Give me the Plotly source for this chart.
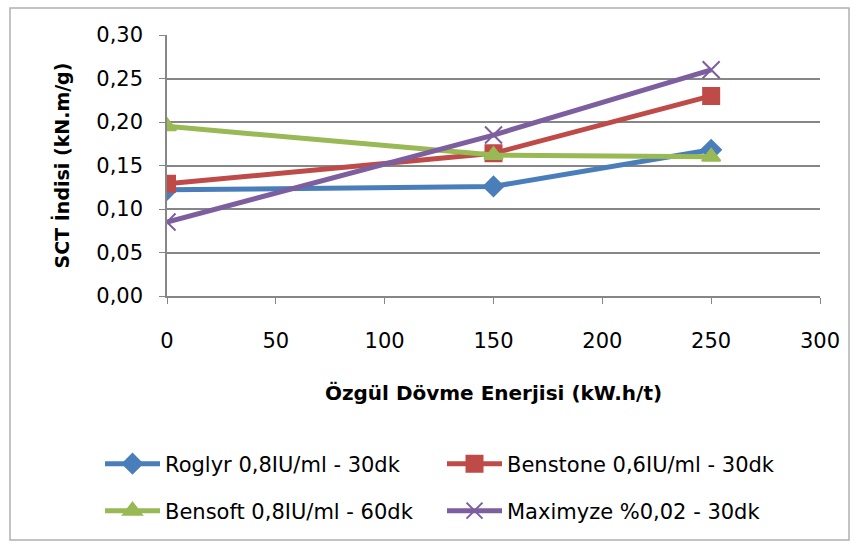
import plotly.graph_objects as go

x_vals = [0, 150, 250]
series_names = ["Roglyr 0,8IU/ml - 30dk", "Benstone 0,6IU/ml - 30dk",
                "Bensoft 0,8IU/ml - 60dk", "Maximyze %0,02 - 30dk"]
roglyr = [0.122, 0.126, 0.168]
benstone = [0.129, 0.164, 0.230]
bensoft = [0.195, 0.162, 0.160]
maximyze = [0.085, 0.185, 0.260]

colors = ["#4A7EBB", "#BE4B48", "#98B954", "#7D5FA0"]
symbols = ["diamond", "square", "triangle-up", "x-thin"]
sizes = [15, 16, 16, 17]
data = [roglyr, benstone, bensoft, maximyze]
legend_ids = ["legend", "legend2", "legend3", "legend4"]

FONT = "DejaVu Sans"
fig = go.Figure()
for name, y, c, s, sz, lg in zip(series_names, data, colors, symbols, sizes, legend_ids):
    fig.add_trace(go.Scatter(
        x=x_vals, y=y, name=name, mode="lines+markers",
        line=dict(color=c, width=5),
        marker=dict(symbol=s, size=sz, color=c, line=dict(color=c, width=2)),
        legend=lg,
    ))

PLOT_W, PLOT_H, L, T = 653, 261, 167, 35


def px_x(px):
    return (px - L) / PLOT_W


def px_y(py):
    return (T + PLOT_H - py) / PLOT_H


leg_common = dict(orientation="h", xanchor="left", yanchor="middle",
                  font=dict(family=FONT, size=21), itemwidth=55,
                  bgcolor="rgba(0,0,0,0)")

fig.update_layout(
    width=859, height=549,
    margin=dict(l=L, r=859 - L - PLOT_W, t=T, b=549 - T - PLOT_H),
    paper_bgcolor="white", plot_bgcolor="white",
    separators=", ",
    font=dict(family=FONT, size=19, color="black"),
    showlegend=True,
    legend=dict(x=px_x(100), y=px_y(464), **leg_common),
    legend2=dict(x=px_x(442), y=px_y(464), **leg_common),
    legend3=dict(x=px_x(100), y=px_y(511), **leg_common),
    legend4=dict(x=px_x(442), y=px_y(511), **leg_common),
    xaxis=dict(range=[0, 300], dtick=50, tick0=0, showgrid=False,
               showline=True, linecolor="#868686", linewidth=1.5,
               ticks="outside", ticklen=6, tickcolor="#868686",
               zeroline=False, tickfont=dict(size=21), ticklabelstandoff=19,
               title=dict(text="<b>Özgül Dövme Enerjisi (kW.h/t)</b>",
                          font=dict(size=20), standoff=34)),
    yaxis=dict(range=[0, 0.30], dtick=0.05, tick0=0, tickformat=".2f",
               showgrid=True, gridcolor="#868686", gridwidth=1.5,
               showline=True, linecolor="#868686", linewidth=1.5,
               ticks="outside", ticklen=6, tickcolor="#868686",
               zeroline=False, tickfont=dict(size=21), ticklabelstandoff=12,
               title=dict(text="<b>SCT İndisi (kN.m/g)</b>",
                          font=dict(size=19), standoff=22)),
)

fig.add_shape(type="rect", xref="paper", yref="paper",
              x0=px_x(10), x1=px_x(849), y0=px_y(540), y1=px_y(8),
              line=dict(color="#B0B0B0", width=1.5), layer="below")

fig.write_html("out.html")
